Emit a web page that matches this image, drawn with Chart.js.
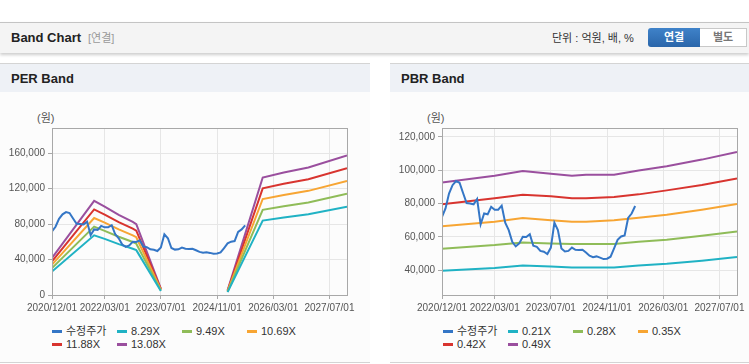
<!DOCTYPE html>
<html lang="ko">
<head>
<meta charset="utf-8">
<script src="https://cdn.jsdelivr.net/npm/chart.js@4.4.0/dist/chart.umd.min.js"></script>
<style>
  body { margin:0; width:749px; height:364px; background:#fff; position:relative; overflow:hidden;
         font-family:"Liberation Sans","Noto Sans CJK KR",sans-serif; color:#333; }
  .top { position:absolute; left:0; top:22px; width:749px; height:30px; background:#f4f4f4;
         border-top:1px solid #c4c4c4; box-shadow:0 2px 3px rgba(0,0,0,.2); }
  .top .ttl { position:absolute; left:11px; top:7px; font-size:13px; line-height:16px; font-weight:bold; color:#222; }
  .top .sub { position:absolute; left:88px; top:7px; font-size:11px; line-height:16px; color:#999; }
  .top .unit { position:absolute; left:552px; top:7px; font-size:11px; line-height:16px; color:#333; }
  .btn { position:absolute; top:5px; height:19px; line-height:19px; text-align:center; font-size:11px; font-weight:bold; }
  .btn.on { left:648px; width:52px; background:linear-gradient(#3f82c9,#2a66aa); color:#fff; border-radius:3px 0 0 3px; }
  .btn.off { left:700px; width:46px; height:17px; line-height:17px; background:#fff; color:#777; border:1px solid #c8c8c8; border-left:none; }
  .panel { position:absolute; top:63px; height:298px; background:#fcfcfc;
           border-top:1px solid #d4d4d4; border-bottom:1px solid #d4d4d4; }
  .panel .ph { height:28px; line-height:30px; background:#eef1f6; padding-left:11px; font-size:13px; font-weight:bold; color:#222; }
  .box { position:absolute; top:93px; height:222px; }
  .won { position:absolute; top:110px; font-size:11px; line-height:16px; color:#555; }
  .lg { position:absolute; font-size:11px; line-height:14px; color:#333; white-space:nowrap; }
  .lg i { display:inline-block; width:10px; height:3px; vertical-align:middle; margin-right:4px; margin-top:-1px; }
</style>
</head>
<body>
<div class="top">
  <span class="ttl">Band Chart</span><span class="sub">[연결]</span>
  <span class="unit">단위 : 억원, 배, %</span>
  <div class="btn on">연결</div><div class="btn off">별도</div>
</div>

<div class="panel" style="left:0;width:370px"><div class="ph">PER Band</div></div>
<div class="panel" style="left:390px;width:359px"><div class="ph">PBR Band</div></div>

<div class="won" style="left:37px">(원)</div>
<div class="won" style="left:427px">(원)</div>

<div class="box" style="left:0;width:370px"><canvas id="per"></canvas></div>
<div class="box" style="left:390px;width:359px"><canvas id="pbr"></canvas></div>
<div id="perLegend"></div>
<div id="pbrLegend"></div>

<script>
// x축: 2020/12/01 기준 개월 수
const xTickMonths = [0, 15, 31, 47, 63, 79];
const xTickLabels = ['2020/12/01', '2022/03/01', '2023/07/01', '2024/11/01', '2026/03/01', '2027/07/01'];

// 수정주가 (월별, 2020/12 ~ 2025/07)
const price = [71900, 77000, 86000, 91000, 93500, 92500, 86300, 80300, 80000, 79500,
               82700, 67500, 74000, 73500, 78000, 76300, 76300, 78700, 68500, 64000,
               57000, 54300, 56000, 60000, 59900, 61600, 54600, 54000, 51500, 51000,
               49600, 53500, 68500, 64000, 53000, 51200, 51500, 53500, 52200, 52000,
               52200, 50500, 48600, 47700, 48200, 47500, 46600, 46800, 48000, 53000,
               58200, 60200, 60800, 71300, 74000, 78500];

// PER 밴드
const perMonths = [0, 12, 15, 19, 23, 24, 31, 40, 50, 60, 66, 73, 84];
const per829  = [26500, 67300, 63300, 57400, 52200, 50600, 4600, null, 3300, 84000, 87500, 91100, 99700];
const per949  = [30400, 77100, 72400, 65700, 59800, 57900, 5200, null, 3800, 96100, 100200, 104300, 114200];
const per1069 = [34200, 86800, 81600, 74000, 67300, 65200, 5900, null, 4300, 108300, 112900, 117500, 128600];
const per1188 = [38000, 96500, 90600, 82200, 74800, 72500, 6500, null, 4800, 120300, 125500, 130600, 142900];
const per1308 = [41900, 106200, 99800, 90500, 82400, 79800, 7200, null, 5200, 132500, 138100, 143800, 157400];
const perYTicks = [0, 40000, 80000, 120000, 160000];

// PBR 밴드
const pbrMonths = [0, 15, 23, 31, 37, 41, 49, 56, 64, 74, 84];
const pbr021 = [39600, 41200, 42800, 42200, 41600, 41600, 41600, 42800, 43800, 45600, 47800];
const pbr028 = [52800, 55000, 56600, 56000, 55600, 55600, 55600, 57000, 58200, 60600, 63200];
const pbr035 = [66300, 69100, 71300, 69900, 69100, 69100, 69900, 71500, 73300, 76300, 79700];
const pbr042 = [79500, 83100, 85300, 84300, 83100, 83100, 83900, 85500, 87900, 91100, 95100];
const pbr049 = [92700, 96700, 99500, 97900, 96700, 97300, 97300, 99900, 102400, 106400, 111000];
const pbrYTicks = [40000, 60000, 80000, 100000, 120000];

const COLORS = ['#3476c6', '#20b2c4', '#8fbc58', '#f7a533', '#d8342f', '#9a4f9e'];
const FONT = '"Liberation Sans", "Noto Sans CJK KR", sans-serif';

// 플롯 영역 테두리
const frame = {
    id: 'frame',
    afterDraw(chart) {
        const a = chart.chartArea, ctx = chart.ctx;
        ctx.save();
        ctx.strokeStyle = '#a8a8a8';
        ctx.lineWidth = 1;
        ctx.strokeRect(Math.round(a.left) + 0.5, Math.round(a.top) + 0.5,
                       Math.round(a.right - a.left), Math.round(a.bottom - a.top));
        ctx.restore();
    }
};

function pts(months, vals) {
    return months.map((m, i) => ({ x: m, y: vals[i] }));
}

function makeChart(id, legendId, names, bandMonths, bands, yMin, yMax, yTicks, rightPad, legendLeft) {
    const datasets = [{ label: '수정주가', data: price.map((v, i) => ({ x: i, y: v })) }];
    bands.forEach((b, k) => datasets.push({ label: names[k], data: pts(bandMonths, b) }));
    datasets.forEach((d, k) => {
        d.borderColor = COLORS[k];
        d.borderWidth = 2;
        d.pointRadius = 0;
        d.tension = 0;
        d.spanGaps = false;
    });

    new Chart(document.getElementById(id), {
        type: 'line',
        data: { datasets: datasets },
        options: {
            responsive: true,
            maintainAspectRatio: false,
            animation: false,
            layout: { padding: { top: 35, right: rightPad, left: 0, bottom: 0 } },
            plugins: { legend: { display: false }, tooltip: { enabled: false } },
            scales: {
                x: {
                    type: 'linear', min: 0, max: 84,
                    afterBuildTicks: s => { s.ticks = xTickMonths.map(v => ({ value: v })); },
                    afterFit: s => { s.height = 20; },
                    ticks: {
                        autoSkip: false, maxRotation: 0, padding: 3, color: '#555',
                        font: { family: FONT, size: 10 },
                        callback: v => xTickLabels[xTickMonths.indexOf(v)]
                    },
                    grid: { color: '#e6e6e6', tickColor: '#a8a8a8', tickLength: 4 },
                    border: { color: '#a8a8a8' }
                },
                y: {
                    min: yMin, max: yMax,
                    afterBuildTicks: s => { s.ticks = yTicks.map(v => ({ value: v })); },
                    afterFit: s => { s.width = 52; },
                    ticks: {
                        autoSkip: false, padding: 3, color: '#555',
                        font: { family: FONT, size: 10 },
                        callback: v => v.toLocaleString('en-US')
                    },
                    grid: { color: '#e6e6e6', tickColor: '#a8a8a8', tickLength: 4 },
                    border: { color: '#a8a8a8' }
                }
            }
        },
        plugins: [frame]
    });

    // 범례 (65px 간격 격자)
    const lg = document.getElementById(legendId);
    datasets.forEach((d, k) => {
        const el = document.createElement('div');
        el.className = 'lg';
        el.style.left = (legendLeft + (k % 4) * 65) + 'px';
        el.style.top = (k < 4 ? 324 : 337) + 'px';
        el.innerHTML = '<i style="background:' + d.borderColor + '"></i>' + d.label;
        lg.appendChild(el);
    });
}

makeChart('per', 'perLegend', ['8.29X', '9.49X', '10.69X', '11.88X', '13.08X'],
          perMonths, [per829, per949, per1069, per1188, per1308],
          0, 188400, perYTicks, 23, 52);
makeChart('pbr', 'pbrLegend', ['0.21X', '0.28X', '0.35X', '0.42X', '0.49X'],
          pbrMonths, [pbr021, pbr028, pbr035, pbr042, pbr049],
          25000, 125400, pbrYTicks, 12, 443);
</script>
</body>
</html>
